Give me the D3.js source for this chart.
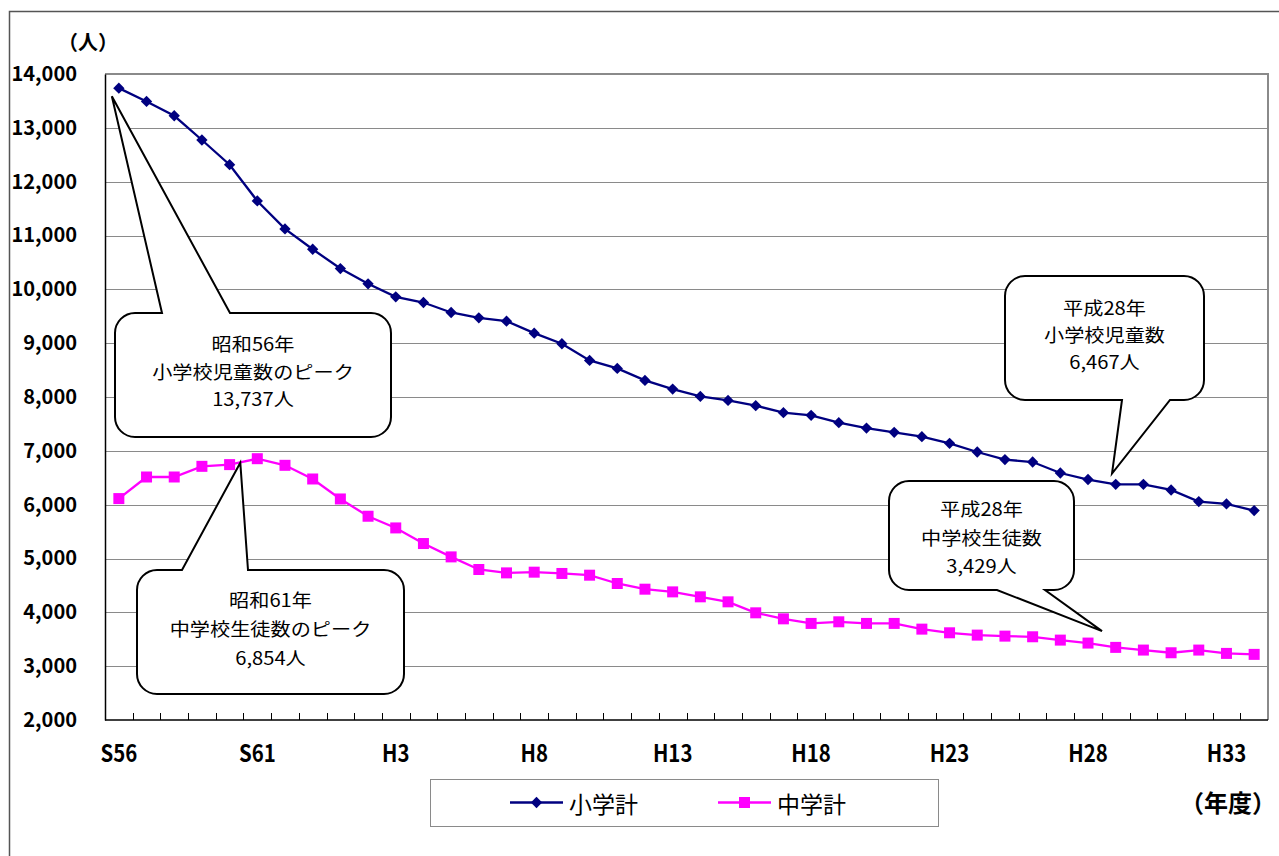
<!DOCTYPE html>
<html lang="ja">
<head>
<meta charset="utf-8">
<script src="https://cdn.jsdelivr.net/npm/d3@7/dist/d3.min.js"></script>
<style>
  html, body { margin: 0; padding: 0; background: #fff; }
  svg { display: block; }
  text { font-family: "Noto Sans CJK JP", "Noto Sans", sans-serif; fill: #000; }
</style>
</head>
<body>
<svg id="chart" width="1279" height="856"></svg>
<script>
// Fiscal years, Showa 56 through Heisei 34
const years = [
  "S56","S57","S58","S59","S60","S61","S62","S63",
  "H1","H2","H3","H4","H5","H6","H7","H8","H9","H10","H11","H12",
  "H13","H14","H15","H16","H17","H18","H19","H20","H21","H22",
  "H23","H24","H25","H26","H27","H28","H29","H30","H31","H32","H33","H34"
];
// Elementary school pupils (小学計)
const elementary = [
  13737, 13490, 13224, 12774, 12315, 11642, 11122, 10744, 10386, 10102,
  9860, 9755, 9570, 9471, 9408, 9186, 8989, 8679, 8531, 8308,
  8147, 8011, 7937, 7839, 7709, 7659, 7523, 7423, 7343, 7263,
  7139, 6978, 6837, 6792, 6588, 6467, 6378, 6378, 6273, 6058, 6013, 5891
];
// Junior high school students (中学計)
const juniorHigh = [
  6113, 6514, 6514, 6712, 6744, 6854, 6731, 6477, 6106, 5785,
  5568, 5278, 5030, 4796, 4733, 4746, 4722, 4690, 4536, 4430,
  4380, 4288, 4195, 3991, 3879, 3794, 3824, 3794, 3794, 3688,
  3620, 3577, 3558, 3546, 3484, 3429, 3349, 3299, 3249, 3299, 3237, 3219
];
const xTickLabels = ["S56","S61","H3","H8","H13","H18","H23","H28","H33"];
const yTicks = [2000,3000,4000,5000,6000,7000,8000,9000,10000,11000,12000,13000,14000];
const seriesNames = ["小学計", "中学計"];

const svg = d3.select("#chart");
const W = 1279, H = 856;
const plot = { left: 105, right: 1268, top: 74, bottom: 720 };

const x = d3.scaleBand().domain(years).range([plot.left, plot.right]).paddingInner(0).paddingOuter(0);
const y = d3.scaleLinear().domain([2000, 14000]).range([plot.bottom, plot.top]);
const cx = d => x(d) + x.bandwidth() / 2;

// outer chart frame
svg.append("rect")
  .attr("x", 9.5).attr("y", 11.5).attr("width", W + 10).attr("height", H + 10)
  .attr("fill", "none").attr("stroke", "#555").attr("stroke-width", 1.5);

// horizontal gridlines
svg.append("g").selectAll("line")
  .data(yTicks.filter(v => v > 2000 && v < 14000))
  .join("line")
  .attr("x1", plot.left).attr("x2", plot.right)
  .attr("y1", d => Math.round(y(d)) + 0.5).attr("y2", d => Math.round(y(d)) + 0.5)
  .attr("stroke", "#8a8a8a").attr("stroke-width", 1);

// plot area border (top/right grey)
svg.append("path")
  .attr("d", `M${plot.left},${plot.top}H${plot.right}V${plot.bottom}`)
  .attr("fill", "none").attr("stroke", "#8a8a8a").attr("stroke-width", 2);

// y axis
const yAxis = d3.axisLeft(y).tickValues(yTicks).tickSize(0).tickPadding(28)
  .tickFormat(d3.format(","));
const gy = svg.append("g").attr("transform", `translate(${plot.left},0)`).call(yAxis);
gy.select(".domain").attr("stroke", "#000").attr("stroke-width", 1.5);
gy.selectAll("text")
  .attr("font-size", 20).attr("font-weight", "bold")
  .attr("font-family", "'Noto Sans CJK JP', sans-serif").attr("fill", "#000");

// x axis: ticks at category boundaries, pointing inward
const gx = svg.append("g").attr("transform", `translate(0,${plot.bottom})`);
gx.append("line")
  .attr("x1", plot.left).attr("x2", plot.right).attr("y1", 0).attr("y2", 0)
  .attr("stroke", "#000").attr("stroke-width", 1.5);
gx.selectAll("line.tick")
  .data(years.slice(1))
  .join("line").attr("class", "tick")
  .attr("x1", d => Math.round(x(d)) + 0.5).attr("x2", d => Math.round(x(d)) + 0.5)
  .attr("y1", 0).attr("y2", -7)
  .attr("stroke", "#000").attr("stroke-width", 1);
gx.selectAll("text")
  .data(xTickLabels)
  .join("text")
  .attr("transform", d => `translate(${cx(d)},42) scale(0.85,1)`)
  .attr("text-anchor", "middle")
  .attr("font-size", 24).attr("font-weight", "bold")
  .text(d => d);

// unit labels
svg.append("text").attr("x", 88).attr("y", 50).attr("text-anchor", "middle")
  .attr("font-size", 20).attr("font-weight", "bold").text("（人）");
svg.append("text").attr("x", 1228).attr("y", 812).attr("text-anchor", "middle")
  .attr("font-size", 24).attr("font-weight", "bold").text("（年度）");

// series
const series = [
  { name: seriesNames[0], values: elementary, color: "#000080", symbol: "diamond" },
  { name: seriesNames[1], values: juniorHigh, color: "#FF00FF", symbol: "square" }
];
const line = d3.line().x(d => cx(d.year)).y(d => y(d.value));
const markerPath = s => s === "diamond"
  ? d3.symbol().type(d3.symbolSquare).size(64)()
  : d3.symbol().type(d3.symbolSquare).size(121)();
const markerRot = s => s === "diamond" ? 45 : 0;

series.forEach(s => {
  const pts = years.map((yr, i) => ({ year: yr, value: s.values[i] }));
  svg.append("path").datum(pts)
    .attr("d", line).attr("fill", "none")
    .attr("stroke", s.color).attr("stroke-width", 2.3);
  svg.append("g").selectAll("path").data(pts).join("path")
    .attr("d", markerPath(s.symbol))
    .attr("transform", d => `translate(${cx(d.year)},${y(d.value)}) rotate(${markerRot(s.symbol)})`)
    .attr("fill", s.color);
});

// callouts: rounded box with a pointer tail on top or bottom edge
function calloutPath(b) {
  const { x0, y0, x1, y1, r, side, t1, t2, tip } = b;
  let p = `M${x0 + r},${y0}`;
  if (side === "top") p += `L${t1},${y0}L${tip[0]},${tip[1]}L${t2},${y0}`;
  p += `L${x1 - r},${y0}A${r},${r} 0 0 1 ${x1},${y0 + r}`;
  p += `L${x1},${y1 - r}A${r},${r} 0 0 1 ${x1 - r},${y1}`;
  if (side === "bottom") p += `L${t2},${y1}L${tip[0]},${tip[1]}L${t1},${y1}`;
  p += `L${x0 + r},${y1}A${r},${r} 0 0 1 ${x0},${y1 - r}`;
  p += `L${x0},${y0 + r}A${r},${r} 0 0 1 ${x0 + r},${y0}Z`;
  return p;
}

const callouts = [
  { idx: 0, values: elementary, dx: -7, dy: 8,
    box: { x0: 115, y0: 313, x1: 391, y1: 437, r: 20, side: "top", t1: 162, t2: 230 },
    lines: ["昭和56年", "小学校児童数のピーク", "13,737人"], ty: [343, 371, 398] },
  { idx: 5, values: juniorHigh, dx: -17, dy: 4,
    box: { x0: 137, y0: 570, x1: 404, y1: 694, r: 20, side: "top", t1: 182, t2: 248 },
    lines: ["昭和61年", "中学校生徒数のピーク", "6,854人"], ty: [599, 628, 657] },
  { idx: 35, values: elementary, dx: 24, dy: -6,
    box: { x0: 1005, y0: 276, x1: 1204, y1: 400, r: 20, side: "bottom", t1: 1122, t2: 1170 },
    lines: ["平成28年", "小学校児童数", "6,467人"], ty: [307, 334, 361] },
  { idx: 35, values: juniorHigh, dx: 14, dy: -12,
    box: { x0: 889, y0: 481, x1: 1074, y1: 590, r: 20, side: "bottom", t1: 997, t2: 1045 },
    lines: ["平成28年", "中学校生徒数", "3,429人"], ty: [508, 537, 565] }
];

callouts.forEach(c => {
  const tip = [cx(years[c.idx]) + c.dx, y(c.values[c.idx]) + c.dy];
  svg.append("path")
    .attr("d", calloutPath({ ...c.box, tip }))
    .attr("fill", "#fff").attr("stroke", "#000").attr("stroke-width", 2)
    .attr("stroke-linejoin", "miter");
  const midX = (c.box.x0 + c.box.x1) / 2;
  c.lines.forEach((t, i) => {
    svg.append("text")
      .attr("transform", `translate(${midX},${c.ty[i]}) scale(1.12,1)`)
      .attr("text-anchor", "middle").attr("dominant-baseline", "central")
      .attr("font-size", 18).text(t);
  });
});

// legend
const lg = svg.append("g");
lg.append("rect").attr("x", 430.5).attr("y", 779.5).attr("width", 508).attr("height", 47)
  .attr("fill", "#fff").attr("stroke", "#8a8a8a").attr("stroke-width", 1);
const legendItems = [
  { s: series[0], x0: 510 },
  { s: series[1], x0: 718 }
];
legendItems.forEach(it => {
  lg.append("line").attr("x1", it.x0).attr("x2", it.x0 + 53)
    .attr("y1", 802.5).attr("y2", 802.5)
    .attr("stroke", it.s.color).attr("stroke-width", 2.3);
  lg.append("path").attr("d", markerPath(it.s.symbol))
    .attr("transform", `translate(${it.x0 + 26.5},802.5) rotate(${markerRot(it.s.symbol)})`)
    .attr("fill", it.s.color);
  lg.append("text").attr("x", it.x0 + 59).attr("y", 803)
    .attr("dominant-baseline", "central").attr("font-size", 23).text(it.s.name);
});
</script>
</body>
</html>
